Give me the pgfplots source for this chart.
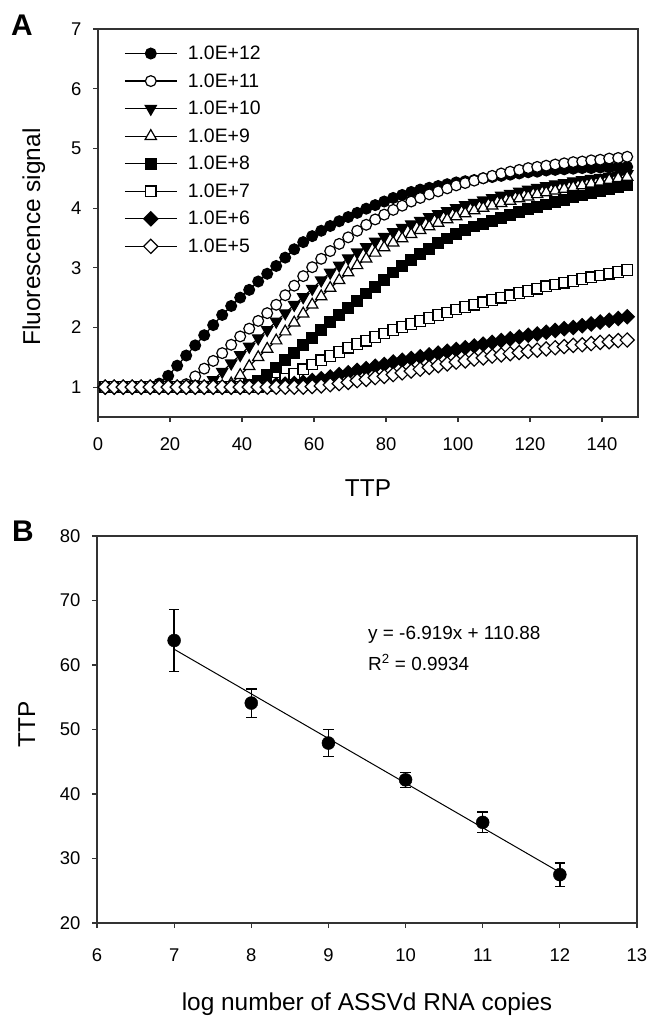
\documentclass[border=0pt]{standalone}
\usepackage{fontspec}
\setmainfont{Liberation Sans}
\usepackage{pgfplots}
\usepackage{pgfplotstable}
\pgfplotsset{compat=1.18}

\pgfplotstableread{
x e12 e11 e10 e9 e8 e7 e6 e5
2 1.00 1.00 1.00 1.00 1.00 1.00 1.00 1.00
4.5 1.00 1.00 1.00 1.00 1.00 1.00 1.00 1.00
7 1.00 1.00 1.00 1.00 1.00 1.00 1.00 1.00
9.5 1.00 1.00 1.00 1.00 1.00 1.00 1.00 1.00
12 1.00 1.00 1.00 1.00 1.00 1.00 1.00 1.00
14.5 1.01 1.00 1.00 1.00 1.00 1.00 1.00 1.00
17 1.06 1.00 1.00 1.00 1.00 1.00 1.00 1.00
19.5 1.19 1.00 1.00 1.00 1.00 1.00 1.00 1.00
22 1.36 1.01 1.00 1.00 1.00 1.00 1.00 1.00
24.5 1.53 1.05 1.00 1.00 1.00 1.00 1.00 1.00
27 1.70 1.18 1.01 1.00 1.00 1.00 1.00 1.00
29.5 1.87 1.31 1.04 1.00 1.00 1.00 1.00 1.00
32 2.04 1.44 1.12 1.00 1.00 1.00 1.00 1.00
34.5 2.21 1.57 1.26 1.00 1.00 1.00 1.00 1.00
37 2.36 1.71 1.40 1.06 1.00 1.00 1.00 1.00
39.5 2.50 1.85 1.54 1.20 1.00 1.00 1.00 1.00
42 2.63 1.98 1.68 1.35 1.03 1.00 1.01 1.00
44.5 2.77 2.11 1.82 1.50 1.10 1.00 1.02 1.00
47 2.90 2.24 1.96 1.64 1.21 1.02 1.03 1.00
49.5 3.03 2.38 2.10 1.78 1.33 1.07 1.04 1.00
52 3.17 2.54 2.24 1.93 1.45 1.14 1.05 1.00
54.5 3.31 2.70 2.38 2.08 1.57 1.22 1.06 1.00
57 3.43 2.86 2.51 2.23 1.70 1.30 1.08 1.00
59.5 3.53 3.01 2.65 2.38 1.83 1.38 1.11 1.01
62 3.62 3.15 2.79 2.52 1.96 1.45 1.14 1.02
64.5 3.70 3.28 2.92 2.66 2.09 1.52 1.17 1.04
67 3.78 3.40 3.04 2.79 2.21 1.59 1.21 1.06
69.5 3.85 3.51 3.16 2.92 2.33 1.66 1.24 1.08
72 3.92 3.62 3.26 3.04 2.45 1.72 1.28 1.11
74.5 3.99 3.72 3.35 3.15 2.57 1.78 1.31 1.13
77 4.05 3.81 3.44 3.25 2.68 1.84 1.35 1.16
79.5 4.11 3.89 3.52 3.34 2.80 1.90 1.38 1.18
82 4.17 3.97 3.60 3.42 2.92 1.96 1.42 1.21
84.5 4.22 4.04 3.67 3.49 3.03 2.01 1.45 1.24
87 4.27 4.11 3.73 3.56 3.13 2.06 1.48 1.27
89.5 4.31 4.17 3.79 3.63 3.23 2.11 1.51 1.30
92 4.34 4.23 3.85 3.69 3.32 2.16 1.54 1.33
94.5 4.37 4.28 3.90 3.75 3.41 2.21 1.57 1.36
97 4.40 4.33 3.95 3.81 3.49 2.25 1.60 1.39
99.5 4.43 4.38 4.00 3.86 3.57 2.30 1.63 1.42
102 4.45 4.42 4.05 3.91 3.63 2.34 1.66 1.44
104.5 4.47 4.46 4.09 3.96 3.69 2.38 1.69 1.47
107 4.50 4.50 4.13 4.00 3.74 2.42 1.72 1.49
109.5 4.52 4.54 4.17 4.04 3.79 2.46 1.75 1.52
112 4.54 4.58 4.21 4.08 3.84 2.50 1.78 1.54
114.5 4.56 4.61 4.24 4.12 3.89 2.54 1.81 1.56
117 4.58 4.64 4.28 4.16 3.93 2.58 1.84 1.58
119.5 4.60 4.67 4.31 4.19 3.98 2.61 1.87 1.60
122 4.61 4.69 4.34 4.23 4.02 2.65 1.89 1.62
124.5 4.63 4.71 4.37 4.26 4.06 2.69 1.92 1.64
127 4.64 4.73 4.40 4.29 4.10 2.72 1.95 1.66
129.5 4.65 4.75 4.42 4.32 4.14 2.75 1.98 1.68
132 4.66 4.77 4.45 4.35 4.18 2.78 2.00 1.70
134.5 4.67 4.78 4.47 4.38 4.21 2.81 2.03 1.71
137 4.67 4.80 4.49 4.41 4.25 2.84 2.06 1.73
139.5 4.68 4.81 4.51 4.44 4.28 2.87 2.09 1.75
142 4.68 4.83 4.53 4.47 4.32 2.90 2.12 1.76
144.5 4.69 4.84 4.55 4.50 4.35 2.93 2.15 1.78
147 4.69 4.86 4.57 4.52 4.38 2.96 2.18 1.79
}\curvesA

\pgfplotstableread{
x y err
7 63.8 4.8
8 54.1 2.2
9 47.9 2.1
10 42.2 1.15
11 35.6 1.6
12 27.5 1.8
}\ttpB

\begin{document}
\begin{tikzpicture}
\useasboundingbox (0,0) rectangle (659bp,-1028bp);
\pgfplotsset{
  myaxis/.style={
    scale only axis, width=540bp,
    axis line style={line width=1.1bp, black!80},
    tick style={line width=1.1bp, black!80},
    tick align=outside, major tick length=5bp,
    xtick pos=left, ytick pos=left,
    tick label style={font=\fontsize{18.5}{20}\selectfont},
    /pgf/number format/assume math mode=true,
    label style={font=\fontsize{24.5}{28}\selectfont},
  },
  ser/.style={black, line width=1.2bp, mark options={solid, line width=1.2bp}},
}
\begin{axis}[myaxis, at={(98bp,-417bp)}, anchor=south west, height=388bp,
  xmin=0, xmax=150, ymin=0.5, ymax=7,
  xtick={0,20,...,140}, ytick={1,...,7},
  xticklabel shift=12bp, yticklabel shift=8bp,
  xlabel={TTP}, ylabel={Fluorescence signal},
  xlabel style={at={(axis description cs:0.5,-0.206)}, anchor=base},
  ylabel style={at={(axis description cs:-0.1074,0.464)}, anchor=base},
  legend image code/.code={\path[draw=none, fill=none] (0bp,0bp) -- (61bp,0bp);
    \draw[#1, mark repeat=2, mark phase=2] plot coordinates {(0bp,0bp) (26bp,0bp) (52bp,0bp)};},
  legend style={at={(axis description cs:0.0426,0.967)}, anchor=north west, draw=none, fill=none,
    font=\fontsize{19.5}{21}\selectfont, row sep=8.5bp, cells={anchor=west},
    nodes={font=\fontsize{19.5}{21}\selectfont}},
]
\addplot[ser, mark=*, mark size=5.4bp, mark options={fill=black}] table[x=x,y=e12]{\curvesA};
\addlegendentry{1.0E+12}
\addplot[ser, mark=*, mark size=5.4bp, mark options={fill=white}] table[x=x,y=e11]{\curvesA};
\addlegendentry{1.0E+11}
\addplot[ser, mark=triangle*, mark size=6.5bp, mark options={fill=black, rotate=180}] table[x=x,y=e10]{\curvesA};
\addlegendentry{1.0E+10}
\addplot[ser, mark=triangle*, mark size=6.5bp, mark options={fill=white}] table[x=x,y=e9]{\curvesA};
\addlegendentry{1.0E+9}
\addplot[ser, mark=square*, mark size=5.3bp, mark options={fill=black}] table[x=x,y=e8]{\curvesA};
\addlegendentry{1.0E+8}
\addplot[ser, mark=square*, mark size=5.3bp, mark options={fill=white}] table[x=x,y=e7]{\curvesA};
\addlegendentry{1.0E+7}
\addplot[ser, mark=square*, mark size=5bp, mark options={fill=black, rotate=45}] table[x=x,y=e6]{\curvesA};
\addlegendentry{1.0E+6}
\addplot[ser, mark=square*, mark size=5bp, mark options={fill=white, rotate=45}] table[x=x,y=e5]{\curvesA};
\addlegendentry{1.0E+5}
\end{axis}

\begin{axis}[myaxis, at={(97bp,-923bp)}, anchor=south west, height=387bp,
  xmin=6, xmax=13, ymin=20, ymax=80,
  xtick={6,...,13}, ytick={20,30,...,80},
  xticklabel shift=17bp, yticklabel shift=8bp,
  xlabel={log number of ASSVd RNA copies}, ylabel={TTP},
  xlabel style={at={(axis description cs:0.5,-0.2248)}, anchor=base},
  ylabel style={at={(axis description cs:-0.1148,0.514)}, anchor=base},
]
\addplot[black, line width=1bp] coordinates {(7,62.447) (12,27.852)};
\addplot[black, only marks, mark=*, mark size=6.5bp,
  error bars/.cd, y dir=both, y explicit,
  error bar style={line width=1.3bp, black},
  error mark options={rotate=90, mark size=5.3bp, line width=1.3bp, black}]
  table[x=x, y=y, y error=err]{\ttpB};
\node[anchor=base west, font=\fontsize{19}{22}\selectfont, inner sep=0pt] at (axis cs:9.513,63.88) {y = -6.919x + 110.88};
\node[anchor=base west, font=\fontsize{19}{22}\selectfont, inner sep=0pt] at (axis cs:9.513,59.2) {R\textsuperscript{2} = 0.9934};
\end{axis}

\node[anchor=base west, font=\fontsize{30}{32}\selectfont\bfseries, inner sep=0pt] at (11bp,-35bp) {A};
\node[anchor=base west, font=\fontsize{30}{32}\selectfont\bfseries, inner sep=0pt] at (12bp,-541bp) {B};
\end{tikzpicture}
\end{document}
